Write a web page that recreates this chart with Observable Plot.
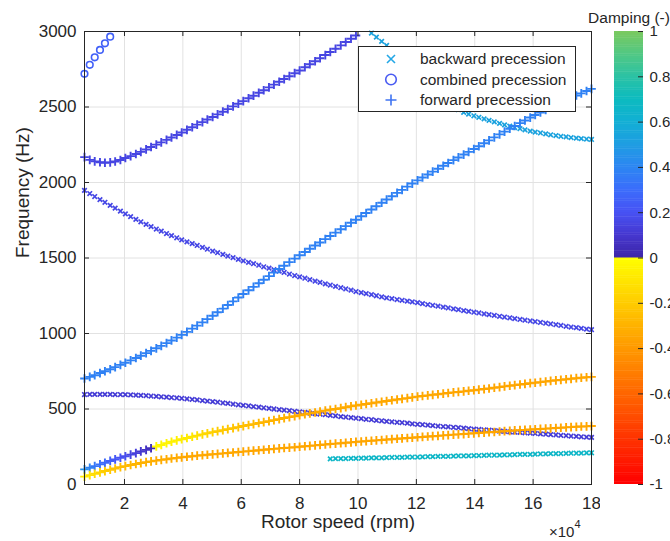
<!DOCTYPE html>
<html><head><meta charset="utf-8">
<script src="https://cdn.jsdelivr.net/npm/d3@7"></script>
<script src="https://cdn.jsdelivr.net/npm/@observablehq/plot@0.6"></script>
<style>
body{margin:0;background:#fff;font-family:"Liberation Sans",Arial,Helvetica,sans-serif;color:#262626;}
#wrap{position:relative;width:670px;height:541px;overflow:hidden;background:#fff;}
#wrap > svg, #wrap > div{position:absolute;}
.legend{left:358px;top:46px;width:218px;height:66px;box-sizing:border-box;background:#fff;border:1px solid #262626;}
.legend .t{position:absolute;left:61px;font-size:15.5px;line-height:20px;white-space:nowrap;}
</style></head>
<body><div id="wrap"></div>
<script>
// Rotor speed grid (x 10^4 rpm)
const rpm = [0.63,0.81,0.98,1.16,1.33,1.51,1.68,1.86,2.03,2.21,
2.39,2.56,2.74,2.91,3.09,3.26,3.44,3.61,3.79,3.96,
4.14,4.32,4.49,4.67,4.84,5.02,5.19,5.37,5.54,5.72,
5.90,6.07,6.25,6.42,6.60,6.77,6.95,7.12,7.30,7.47,
7.65,7.83,8.00,8.18,8.35,8.53,8.70,8.88,9.05,9.23,
9.41,9.58,9.76,9.93,10.11,10.28,10.46,10.63,10.81,10.98,
11.16,11.34,11.51,11.69,11.86,12.04,12.21,12.39,12.56,12.74,
12.92,13.09,13.27,13.44,13.62,13.79,13.97,14.14,14.32,14.49,
14.67,14.85,15.02,15.20,15.37,15.55,15.72,15.90,16.07,16.25,
16.43,16.60,16.78,16.95,17.13,17.30,17.48,17.65,17.83,18.00];

// combined precession (circles), from index 0
const freqA = [2720,2779,2829,2878,2922,2966];
const dampA = 0.25;
// forward, top branch, from index 0
const freqB = [2168,2150,2140,2134,2131,2133,2139,2149,2162,2175,
2189,2203,2219,2235,2251,2266,2282,2298,2315,2331,
2349,2366,2383,2400,2417,2434,2451,2469,2486,2504,
2522,2539,2558,2575,2594,2611,2630,2648,2667,2685,
2704,2724,2742,2763,2783,2803,2823,2844,2864,2886,
2908,2930,2952,2974];
const dampB = 0.15;
// backward, top-right branch, from index 56
const freqC = [2990,2963,2935,2908,2878,2847,2818,2788,2759,2728,
2699,2669,2639,2607,2574,2544,2513,2482,2464,2453,
2442,2432,2421,2411,2401,2392,2382,2373,2364,2356,
2348,2340,2334,2328,2322,2316,2311,2306,2302,2298,
2294,2291,2288,2285];
const dampC = 0.53;
// forward, rising from 700 Hz
const freqD = [702,713,724,738,750,763,777,792,806,822,
838,853,870,885,902,918,936,954,973,991,
1011,1032,1052,1074,1095,1118,1141,1165,1189,1213,
1238,1262,1286,1309,1333,1356,1380,1403,1427,1449,
1473,1496,1518,1540,1561,1583,1603,1625,1646,1668,
1690,1711,1733,1753,1776,1798,1821,1843,1866,1887,
1909,1931,1951,1973,1993,2014,2033,2053,2072,2091,
2111,2129,2148,2166,2185,2203,2222,2240,2260,2279,
2299,2319,2337,2356,2374,2393,2411,2430,2447,2464,
2481,2497,2514,2530,2546,2561,2576,2590,2606,2620];
const dampD = 0.38;
// backward, falling from 1950 Hz
const freqE = [1948,1927,1907,1887,1869,1849,1830,1810,1792,1774,
1756,1740,1723,1708,1692,1678,1662,1648,1634,1620,
1607,1595,1583,1570,1558,1546,1535,1524,1513,1502,
1491,1481,1471,1462,1452,1442,1433,1423,1413,1404,
1394,1384,1375,1366,1357,1347,1339,1329,1321,1312,
1303,1295,1287,1278,1271,1264,1257,1250,1243,1236,
1231,1225,1220,1214,1209,1204,1198,1192,1187,1181,
1175,1169,1163,1158,1152,1147,1141,1136,1130,1125,
1120,1114,1109,1104,1099,1093,1088,1083,1078,1073,
1068,1063,1058,1053,1048,1043,1039,1034,1029,1025];
const dampE = 0.16;
// backward, falling from 600 Hz
const freqF = [596,597,597,597,597,597,596,596,595,594,
592,590,588,586,584,581,579,576,573,571,
567,563,560,556,552,549,545,540,537,532,
528,524,520,516,512,508,504,500,496,493,
489,485,481,477,473,469,466,462,458,454,
450,447,443,439,436,432,429,425,422,418,
415,412,409,406,402,399,396,393,390,387,
384,382,379,376,373,370,367,365,362,360,
357,354,352,349,347,345,342,340,338,335,
333,331,328,326,323,321,319,316,314,312];
const dampF = 0.12;
// forward, rising from 100 Hz (stable -> unstable)
const freqG = [100,111,122,133,144,156,166,177,187,198,
208,219,229,240,252,262,273,283,292,300,
308,316,324,332,339,347,353,360,367,373,
380,387,394,400,407,413,420,426,433,440,
446,452,459,465,471,477,483,489,495,500,
506,512,518,523,528,533,538,543,548,553,
558,563,567,572,577,582,586,590,594,598,
602,606,610,613,617,621,624,628,632,636,
641,645,650,654,658,662,666,671,674,678,
682,686,690,693,697,700,704,707,710,713];
const dampG = [0.45,0.39,0.34,0.31,0.28,0.25,0.22,0.2,0.18,0.15,
0.13,0.1,0.07,0.04,-0.02,-0.03,-0.04,-0.05,-0.06,-0.07,
-0.08,-0.1,-0.12,-0.14,-0.16,-0.18,-0.2,-0.21,-0.22,-0.23,
-0.24,-0.25,-0.26,-0.27,-0.28,-0.29,-0.3,-0.3,-0.31,-0.31,
-0.32,-0.32,-0.33,-0.33,-0.33,-0.33,-0.33,-0.33,-0.33,-0.33,
-0.33,-0.33,-0.33,-0.33,-0.33,-0.34,-0.34,-0.34,-0.34,-0.34,
-0.34,-0.34,-0.34,-0.34,-0.34,-0.34,-0.34,-0.34,-0.34,-0.34,
-0.35,-0.35,-0.35,-0.35,-0.35,-0.35,-0.35,-0.35,-0.35,-0.35,
-0.35,-0.35,-0.35,-0.35,-0.35,-0.35,-0.35,-0.35,-0.35,-0.35,
-0.35,-0.35,-0.35,-0.35,-0.35,-0.35,-0.35,-0.35,-0.35,-0.35];
// forward, lowest branch
const freqH = [52,62,71,80,89,98,106,115,122,129,
136,142,148,153,158,163,167,172,176,180,
184,187,191,194,197,200,203,206,209,212,
215,218,221,224,227,230,233,236,239,242,
244,247,250,253,256,259,262,265,268,271,
273,276,279,282,285,287,290,292,295,298,
300,303,305,308,310,313,315,318,320,322,
325,327,330,332,334,337,339,341,344,346,
348,351,353,355,358,360,362,364,366,368,
370,372,374,376,378,380,382,384,385,387];
const dampH = [-0.08,-0.11,-0.14,-0.17,-0.2,-0.22,-0.24,-0.26,-0.27,-0.28,
-0.29,-0.3,-0.31,-0.31,-0.32,-0.32,-0.33,-0.33,-0.33,-0.34,
-0.34,-0.34,-0.34,-0.34,-0.34,-0.34,-0.34,-0.34,-0.34,-0.34,
-0.34,-0.35,-0.35,-0.35,-0.35,-0.35,-0.35,-0.35,-0.35,-0.35,
-0.35,-0.35,-0.35,-0.35,-0.35,-0.35,-0.35,-0.35,-0.35,-0.35,
-0.35,-0.35,-0.35,-0.35,-0.35,-0.35,-0.35,-0.35,-0.35,-0.35,
-0.35,-0.35,-0.35,-0.35,-0.35,-0.35,-0.35,-0.35,-0.35,-0.35,
-0.35,-0.35,-0.35,-0.35,-0.35,-0.35,-0.35,-0.35,-0.35,-0.35,
-0.35,-0.35,-0.35,-0.35,-0.35,-0.35,-0.35,-0.35,-0.35,-0.35,
-0.35,-0.35,-0.35,-0.35,-0.35,-0.35,-0.35,-0.35,-0.35,-0.35];
// backward, low branch from index 48
const freqI = [170,171,171,172,173,173,174,175,176,176,
177,178,179,179,180,181,182,182,183,184,
185,186,186,187,188,189,189,190,191,192,
193,194,194,195,196,197,198,199,200,200,
201,202,203,204,204,205,206,207,207,208,
209,210];
const dampI = 0.66;

const xTicks = [2,4,6,8,10,12,14,16,18];
const yTicks = [0,500,1000,1500,2000,2500,3000];
const cbTicks = [-1,-0.8,-0.6,-0.4,-0.2,0,0.2,0.4,0.6,0.8,1];

// damping colour map: autumn-like below 0, parula-like above 0
const dampStops = [-1,-0.0001,0,0.1,0.2,0.3,0.4,0.5,0.6,0.7,0.8,0.9,1];
const dampColors = ["#ff0000","#ffff00","#3e26a8","#4537cf","#4752f4","#3b6dfb","#2c86f2","#1f9de2","#12afd4","#0cbbbf","#2cc2a4","#52c883","#7bc95e"];

const rows = [];
function addSeries(kind, start, freq, damp) {
  freq.forEach((f, k) => rows.push({rpm: rpm[start + k], freq: f, damp: Array.isArray(damp) ? damp[k] : damp, kind}));
}
addSeries("combined", 0, freqA, dampA);
addSeries("forward", 0, freqB, dampB);
addSeries("backward", 56, freqC, dampC);
addSeries("forward", 0, freqD, dampD);
addSeries("backward", 0, freqE, dampE);
addSeries("backward", 0, freqF, dampF);
addSeries("forward", 0, freqG, dampG);
addSeries("forward", 0, freqH, dampH);
addSeries("backward", 48, freqI, dampI);

const font = '"Liberation Sans", Arial, Helvetica, sans-serif';
const colorScale = {type: "linear", domain: dampStops, range: dampColors, interpolate: "rgb"};
const axisCol = "#262626";

const main = Plot.plot({
  width: 600, height: 541,
  marginLeft: 84, marginRight: 9, marginTop: 31, marginBottom: 57,
  x: {domain: [0.63, 18]},
  y: {domain: [0, 3000]},
  color: colorScale,
  style: {fontFamily: font, fontSize: "17px", color: axisCol, background: "white"},
  marks: [
    Plot.gridX(xTicks, {stroke: "#e2e2e2", strokeOpacity: 1}),
    Plot.gridY(yTicks, {stroke: "#e2e2e2", strokeOpacity: 1}),
    Plot.dot(rows.filter(d => d.kind === "backward"), {x: "rpm", y: "freq", stroke: "damp", symbol: "times", r: 2.2, strokeWidth: 1.7}),
    Plot.dot(rows.filter(d => d.kind === "forward"), {x: "rpm", y: "freq", stroke: "damp", symbol: "plus", r: 2.9, strokeWidth: 1.9}),
    Plot.dot(rows.filter(d => d.kind === "combined"), {x: "rpm", y: "freq", stroke: "damp", symbol: "circle", r: 3.3, strokeWidth: 1.6, fill: "none"}),
    Plot.tickX(xTicks, {x: d => d, insetTop: 448, stroke: axisCol}),
    Plot.tickX(xTicks, {x: d => d, insetBottom: 448, stroke: axisCol}),
    Plot.tickY(yTicks, {y: d => d, insetRight: 502, stroke: axisCol}),
    Plot.tickY(yTicks, {y: d => d, insetLeft: 502, stroke: axisCol}),
    Plot.frame({stroke: axisCol}),
    Plot.axisX(xTicks, {tickSize: 0, tickPadding: 12, label: null, tickFormat: d => String(d), fontSize: 17}),
    Plot.axisY(yTicks, {tickSize: 0, tickPadding: 8, label: null, tickFormat: d => String(d), fontSize: 17}),
    Plot.text(["Frequency (Hz)"], {frameAnchor: "left", rotate: -90, dx: -62, fontSize: 19, fill: axisCol}),
    Plot.text(["Rotor speed (rpm)"], {frameAnchor: "bottom", dy: 43, fontSize: 19, fill: axisCol})
  ]
});

const cbVals = d3.range(-1, 1, 0.01);
const cbar = Plot.plot({
  width: 90, height: 541,
  marginLeft: 34, marginRight: 27, marginTop: 31, marginBottom: 57,
  x: {domain: [0, 1], axis: null},
  y: {domain: [-1, 1], axis: null},
  color: colorScale,
  style: {fontFamily: font, fontSize: "15px", color: axisCol, background: "none", overflow: "visible"},
  marks: [
    Plot.rect(cbVals, {x1: 0, x2: 1, y1: d => d, y2: d => Math.min(1, d + 0.012), fill: d => d + 0.005}),
    Plot.tickY(cbTicks, {y: d => d, insetLeft: 24, stroke: axisCol}),
    Plot.axisY(cbTicks, {anchor: "right", tickSize: 0, tickPadding: 6, label: null, tickFormat: d => String(d), fontSize: 15}),
    Plot.text(["Damping (-)"], {frameAnchor: "top", dy: -20, fontSize: 15.5, fill: axisCol})
  ]
});

const wrap = document.getElementById("wrap");
main.style.left = "0px"; main.style.top = "0px";
cbar.style.left = "580px"; cbar.style.top = "0px";
wrap.appendChild(main);
wrap.appendChild(cbar);

const leg = document.createElement("div");
leg.className = "legend";
leg.innerHTML = `
<svg width="216" height="64" style="position:absolute;left:0;top:0">
  <path d="M28,8 L36,16 M36,8 L28,16" stroke="#23a7e6" stroke-width="1.6" fill="none"/>
  <circle cx="32" cy="32.5" r="5.3" stroke="#4a5cf2" stroke-width="1.6" fill="none"/>
  <path d="M26.5,53 H37.5 M32,47.5 V58.5" stroke="#3f74f2" stroke-width="1.6" fill="none"/>
</svg>
<div class="t" style="top:2px">backward precession</div>
<div class="t" style="top:22.5px">combined precession</div>
<div class="t" style="top:43px">forward precession</div>`;
wrap.appendChild(leg);

const mult = document.createElement("div");
mult.style.cssText = "left:549px;top:524px;font-size:15px;line-height:15px;white-space:nowrap;";
mult.innerHTML = '×10<span style="font-size:11px;position:relative;top:-9px">4</span>';
wrap.appendChild(mult);
</script>
</body></html>
